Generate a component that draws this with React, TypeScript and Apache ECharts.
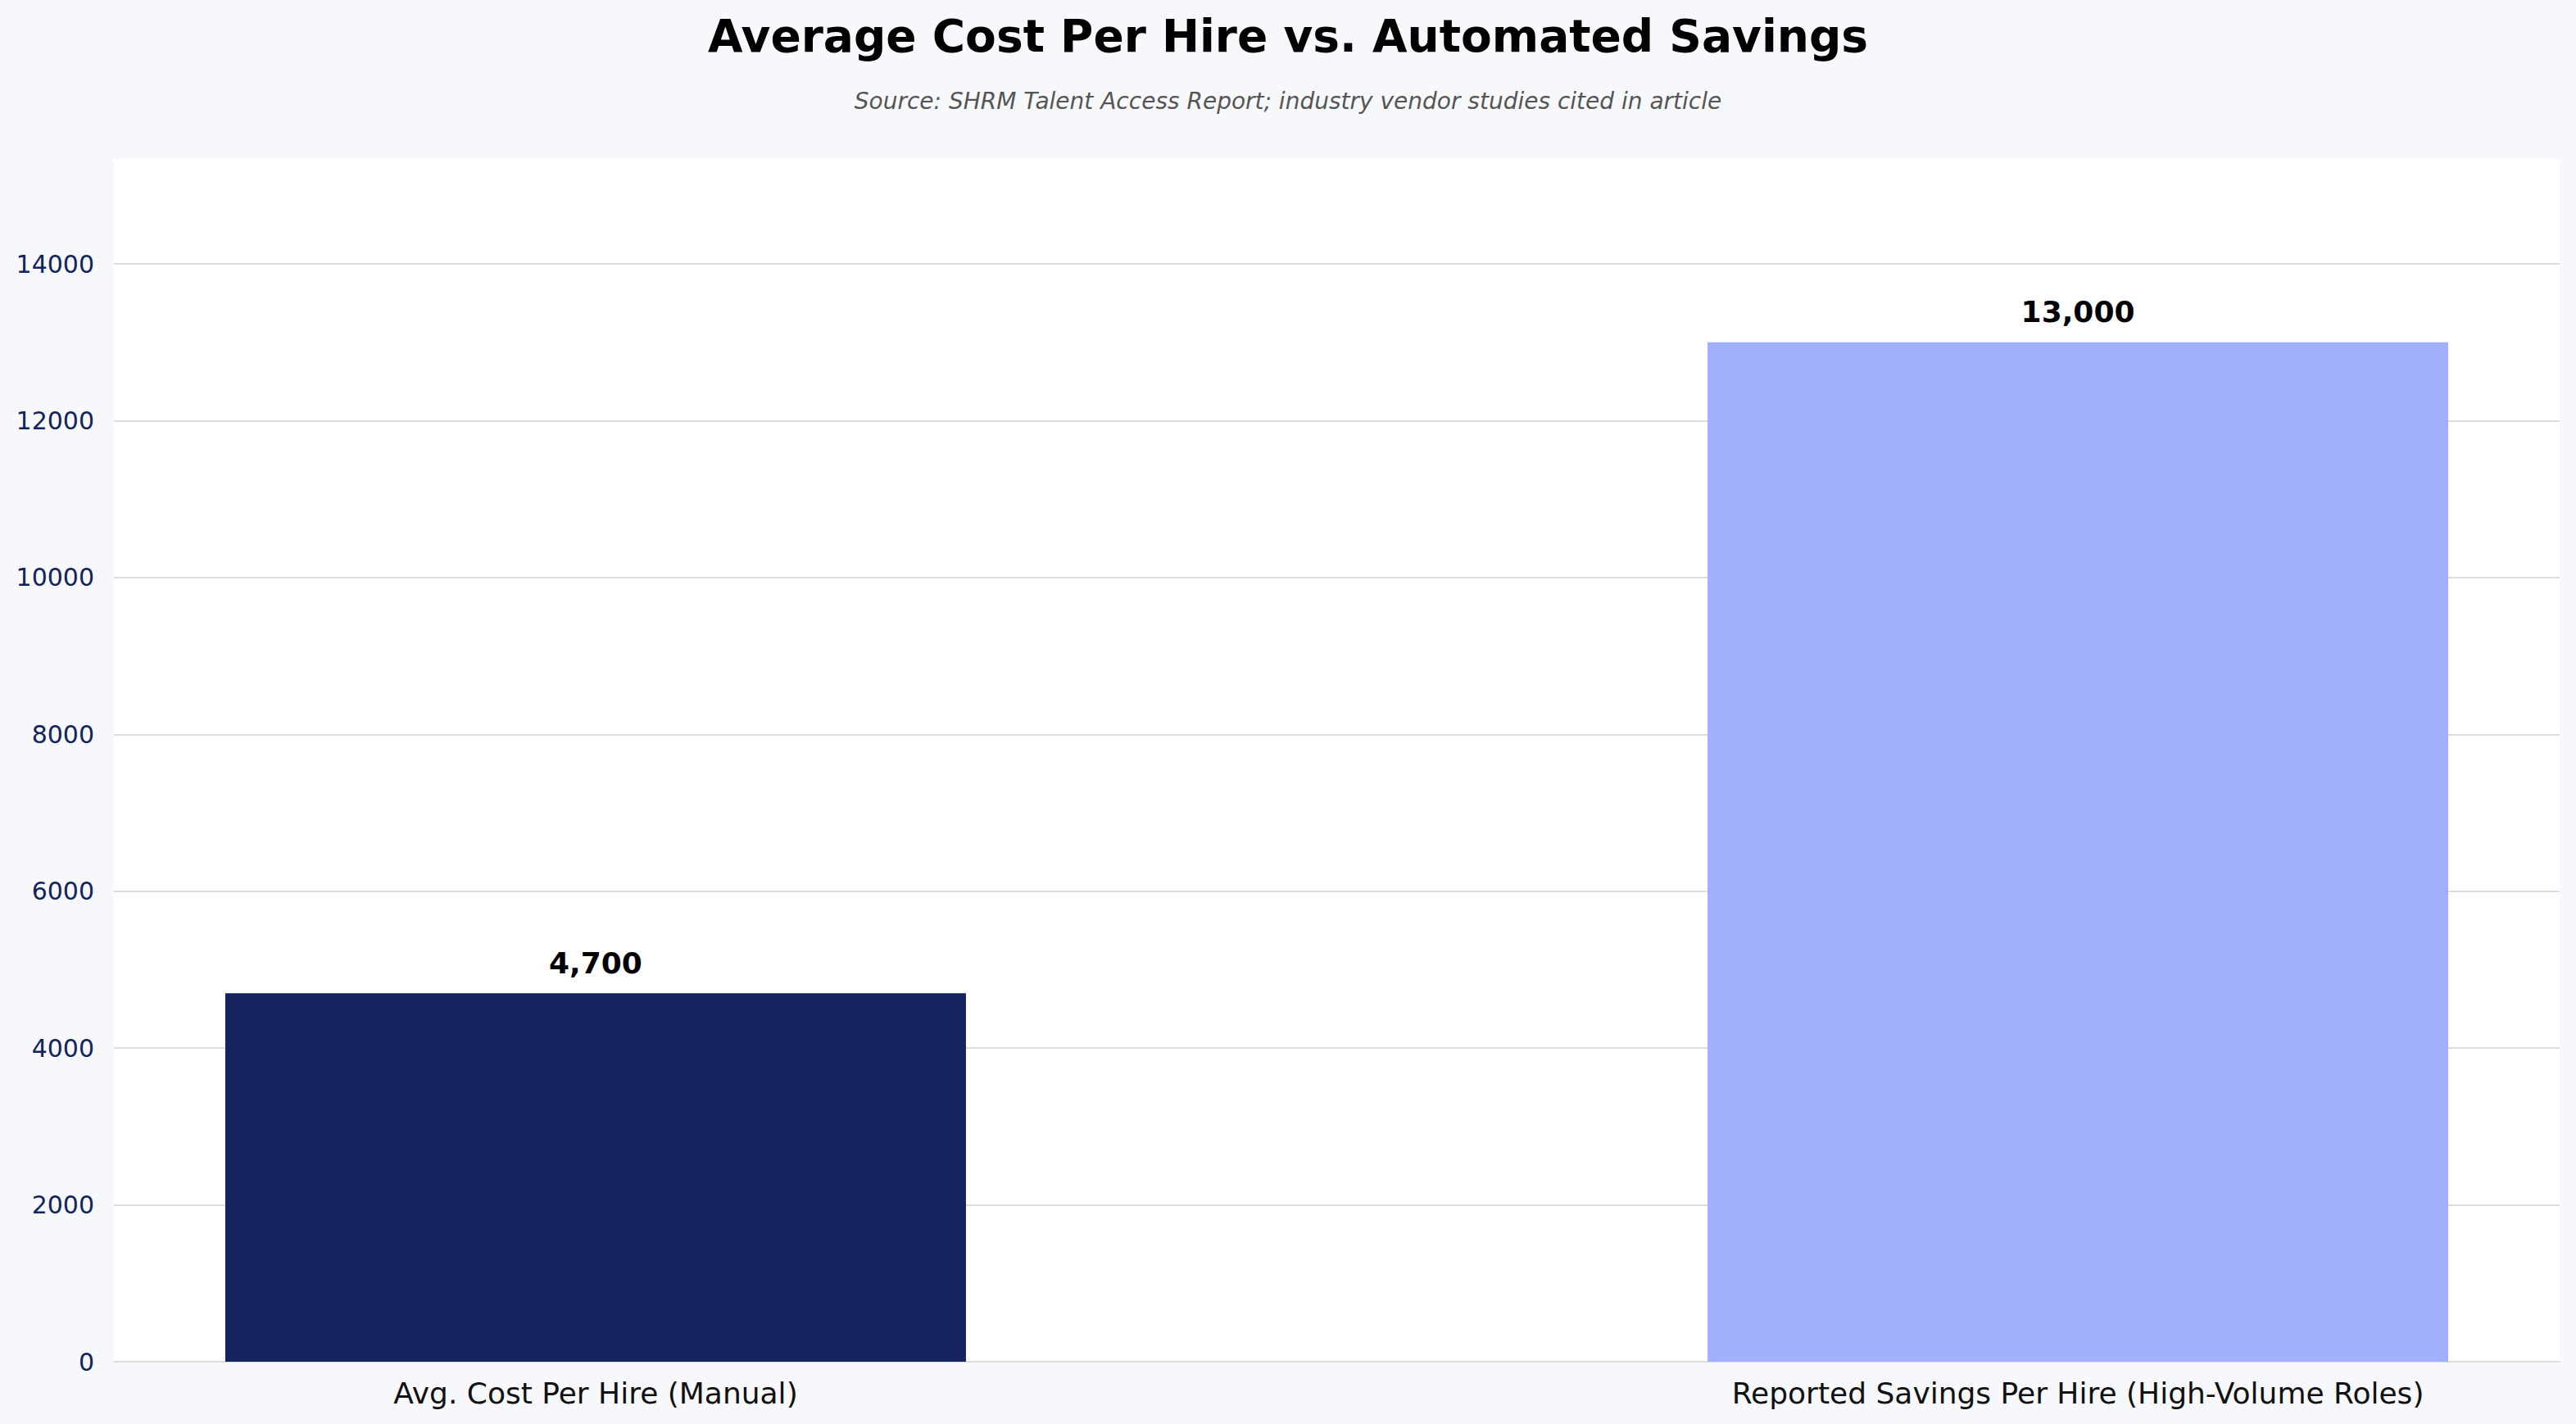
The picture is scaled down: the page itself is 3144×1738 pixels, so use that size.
import React, { useEffect, useRef } from "react";
import * as echarts from "echarts";

const categories = [
  "Avg. Cost Per Hire (Manual)",
  "Reported Savings Per Hire (High-Volume Roles)",
];
const values = [4700, 13000];
const barColors = ["#15245e", "#a0b0fd"];
const categoryPositions = [0, 1];
const titleText = "Average Cost Per Hire vs. Automated Savings";
const subtitleText = "Source: SHRM Talent Access Report; industry vendor studies cited in article";

export default function App() {
  const ref = useRef<HTMLDivElement>(null);
  useEffect(() => {
    const chart = echarts.init(ref.current!, null, { renderer: "svg" });
    chart.setOption({
      animation: false,
      backgroundColor: "#f7f8fc",
      textStyle: { fontFamily: "DejaVu Sans" },
      title: [
        {
          text: titleText,
          left: "center",
          top: 11,
          textStyle: { fontSize: 55, fontWeight: "bold", color: "#000", fontFamily: "DejaVu Sans" },
        },
        {
          text: subtitleText,
          left: "center",
          top: 104,
          textStyle: { fontSize: 28, fontStyle: "italic", fontWeight: "normal", color: "#555", fontFamily: "DejaVu Sans" },
        },
      ],
      graphic: [
        {
          type: "rect",
          z: -10,
          silent: true,
          shape: { x: 139, y: 194, width: 2985, height: 1468 },
          style: { fill: "#ffffff" },
        },
      ],
      grid: { left: 139, right: 20, top: 322, bottom: 76 },
      xAxis: {
        type: "value",
        min: -0.325,
        max: 1.325,
        axisLine: { show: true, lineStyle: { color: "#dddddd", width: 2 } },
        axisTick: { show: false },
        splitLine: { show: false },
        axisLabel: {
          customValues: categoryPositions,
          formatter: (v: number) => categories[Math.round(v)] ?? "",
          fontSize: 36,
          color: "#111",
          margin: 20,
          fontFamily: "DejaVu Sans",
        },
      },
      yAxis: {
        type: "value",
        min: 0,
        max: 14000,
        interval: 2000,
        axisLine: { show: false },
        axisTick: { show: false },
        splitLine: { show: true, lineStyle: { color: "#dcdcdc", width: 2 } },
        axisLabel: {
          fontSize: 30,
          color: "#14245c",
          margin: 24,
          fontFamily: "DejaVu Sans",
          formatter: (v: number) => String(v),
        },
      },
      series: [
        {
          type: "bar",
          barWidth: 904,
          data: values.map((v, i) => ({
            value: [categoryPositions[i], v],
            itemStyle: { color: barColors[i] },
          })),
          label: {
            show: true,
            position: "top",
            distance: 19,
            formatter: (p: any) => Number(p.value[1]).toLocaleString("en-US"),
            fontSize: 36,
            fontWeight: "bold",
            color: "#000",
            fontFamily: "DejaVu Sans",
          },
        },
      ],
    });
    return () => chart.dispose();
  }, []);
  return (
    <div
      ref={ref}
      style={{ position: "fixed", left: 0, top: 0, width: 3144, height: 1738 }}
    />
  );
}
